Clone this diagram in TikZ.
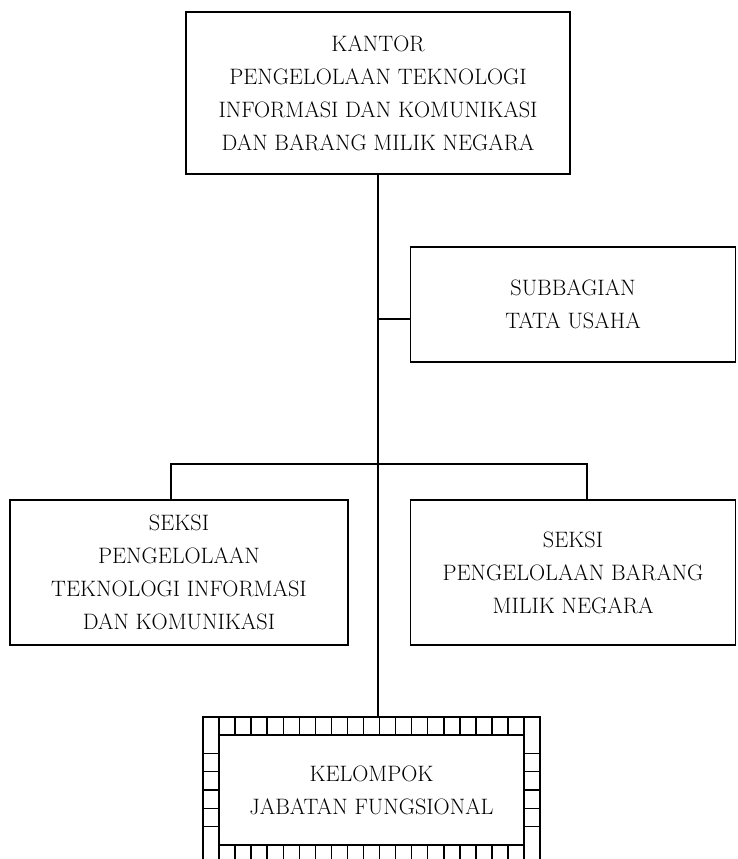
\documentclass[tikz,border=0pt]{standalone}
\usetikzlibrary{positioning}

\begin{document}
\begin{tikzpicture}[
    x=1pt, y=-1pt,
    unit/.style={
        rectangle, draw=black, line width=1.5pt, inner sep=0pt,
        align=center, font=\fontsize{22.3}{33}\selectfont
    },
    garis/.style={line width=1.5pt, color=black},
]

% Page frame
\useasboundingbox (0,0) rectangle (737,859);
\clip (0,0) rectangle (737,859);

% Head office
\node[unit, minimum width=384pt, minimum height=162pt] (kantor) at (378,93)
    {KANTOR\\PENGELOLAAN TEKNOLOGI\\INFORMASI DAN KOMUNIKASI\\DAN BARANG MILIK NEGARA};

% Administration
\node[unit, minimum width=325pt, minimum height=115pt] (tu) at (573,304.5)
    {SUBBAGIAN\\TATA USAHA};

% Sections row
\node[unit, minimum width=338pt, minimum height=145pt] (seksitik) at (179,572.5)
    {SEKSI\\PENGELOLAAN\\TEKNOLOGI INFORMASI\\DAN KOMUNIKASI};
\node[unit, minimum width=325pt, minimum height=145pt] (seksibmn) at (573,572.5)
    {SEKSI\\PENGELOLAAN BARANG\\MILIK NEGARA};

% Functional group with cell border
\node[unit, minimum width=337pt, minimum height=146pt] (kelompok) at (371.5,790) {};
\node[unit, minimum width=305pt, minimum height=110pt] (fungsional) at (371.5,790)
    {KELOMPOK\\JABATAN FUNGSIONAL};
\foreach \i in {1,...,20} {
    \draw[garis] ({203+\i*16.05},717) -- ({203+\i*16.05},735);
    \draw[garis] ({203+\i*16.05},845) -- ({203+\i*16.05},863);
}
\foreach \j in {1,...,5} {
    \draw[garis] (203,{735+\j*18.33}) -- (219,{735+\j*18.33});
    \draw[garis] (524,{735+\j*18.33}) -- (540,{735+\j*18.33});
}

% Branch points on the trunk
\coordinate (tucab) at (378,319);
\coordinate (cabang) at (378,464);

% Trunk
\draw[garis] (kantor.south) -- (kantor.south |- kelompok.north);

% Trunk to administration
\draw[garis] (tucab) -- (tucab -| tu.west);

% Trunk to sections
\draw[garis] ([xshift=-8pt]seksitik.north) |- (cabang);
\draw[garis] (cabang) -| ([xshift=14pt]seksibmn.north);

\end{tikzpicture}
\end{document}
